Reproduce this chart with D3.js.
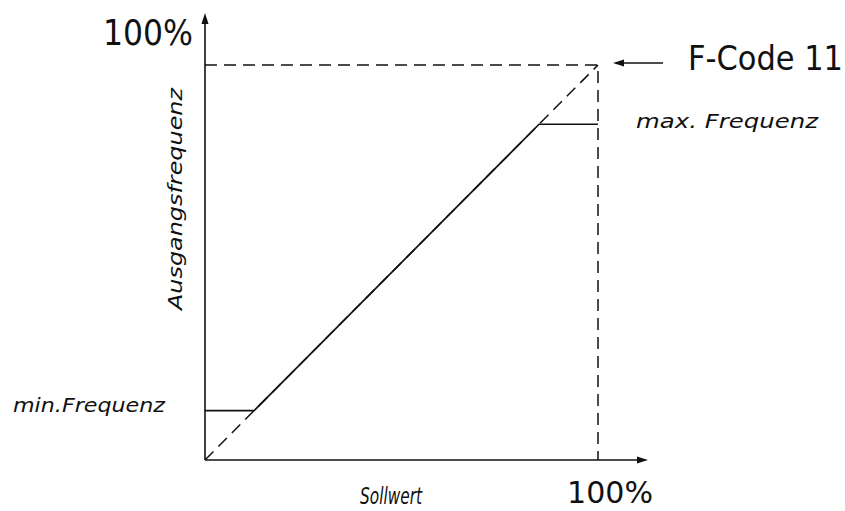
<!DOCTYPE html>
<html><head><meta charset="utf-8">
<script src="https://cdn.jsdelivr.net/npm/d3@7"></script>
<style>body{margin:0;background:#fff}svg{display:block}</style>
</head><body>
<svg id="c" width="845" height="511"></svg>
<script>
// Data (percent)
const minFreq = 12.5;
const maxFreq = 85;
const outputCurve = [[0, minFreq], [minFreq, minFreq], [maxFreq, maxFreq], [100, maxFreq]];
const referenceDiagonal = [[0, 0], [100, 100]];
const referenceFrame = [[0, 100], [100, 100], [100, 0]];
const axisLabels = {x: "Sollwert", y: "Ausgangsfrequenz"};
const tickLabels = {xMax: "100%", yMax: "100%"};
const annotations = {fcode: "F-Code 11", max: "max. Frequenz", min: "min.Frequenz"};

const svg = d3.select("#c");
const x = d3.scaleLinear().domain([0, 100]).range([205, 598]);
const y = d3.scaleLinear().domain([0, 100]).range([460, 65]);
const line = d3.line().x(d => x(d[0])).y(d => y(d[1]));
const ink = "#111";

// axes
svg.append("line").attr("x1", x(0)).attr("y1", y(0)).attr("x2", x(0)).attr("y2", 20)
  .attr("stroke", ink).attr("stroke-width", 1.6);
svg.append("path").attr("d", `M${x(0)},13 L${x(0)-3.5},24 L${x(0)+3.5},24 Z`).attr("fill", ink);
svg.append("line").attr("x1", x(0)).attr("y1", y(0)).attr("x2", 640).attr("y2", y(0))
  .attr("stroke", ink).attr("stroke-width", 1.6);
svg.append("path").attr("d", `M648,${y(0)} L637,${y(0)-3.5} L637,${y(0)+3.5} Z`).attr("fill", ink);

// dashed reference lines
svg.append("path").attr("d", line(referenceDiagonal)).attr("fill", "none")
  .attr("stroke", ink).attr("stroke-width", 1.5).attr("stroke-dasharray", "12,7");
svg.append("path").attr("d", line(referenceFrame)).attr("fill", "none")
  .attr("stroke", ink).attr("stroke-width", 1.5).attr("stroke-dasharray", "12,7");

// solid output curve
svg.append("path").attr("d", line(outputCurve)).attr("fill", "none")
  .attr("stroke", ink).attr("stroke-width", 1.7);

// F-Code arrow
svg.append("line").attr("x1", 663).attr("y1", 63).attr("x2", 620).attr("y2", 63)
  .attr("stroke", ink).attr("stroke-width", 1.6);
svg.append("path").attr("d", "M613,63 L624,59.5 L624,66.5 Z").attr("fill", ink);

const font = "'DejaVu Sans Condensed','DejaVu Sans',sans-serif";
svg.append("text").attr("x", 103).attr("y", 45).attr("font-family", font).attr("font-size", 35)
  .attr("textLength", 90).attr("lengthAdjust", "spacingAndGlyphs").attr("fill", ink).text(tickLabels.yMax);
svg.append("text").attr("x", 567).attr("y", 503).attr("font-family", font).attr("font-size", 30)
  .attr("textLength", 86).attr("lengthAdjust", "spacingAndGlyphs").attr("fill", ink).text(tickLabels.xMax);
svg.append("text").attr("x", 688).attr("y", 70).attr("font-family", font).attr("font-size", 34)
  .attr("textLength", 155).attr("lengthAdjust", "spacingAndGlyphs").attr("fill", ink).text(annotations.fcode);

const ital = "'DejaVu Sans','Noto Sans',sans-serif";
svg.append("text").attr("x", 636).attr("y", 128).attr("font-family", ital).attr("font-style", "italic")
  .attr("font-size", 20).attr("textLength", 182).attr("lengthAdjust", "spacingAndGlyphs").attr("fill", ink).text(annotations.max);
svg.append("text").attr("x", 13).attr("y", 412).attr("font-family", ital).attr("font-style", "italic")
  .attr("font-size", 19).attr("textLength", 152).attr("lengthAdjust", "spacingAndGlyphs").attr("fill", ink).text(annotations.min);
svg.append("text").attr("x", 360).attr("y", 504).attr("font-family", ital).attr("font-style", "italic")
  .attr("font-size", 23).attr("textLength", 62).attr("lengthAdjust", "spacingAndGlyphs").attr("fill", ink).text(axisLabels.x);
svg.append("text").attr("transform", "translate(182,310) rotate(-90)").attr("font-family", ital).attr("font-style", "italic")
  .attr("font-size", 20).attr("textLength", 222).attr("lengthAdjust", "spacingAndGlyphs").attr("fill", ink).text(axisLabels.y);
</script>
</body></html>
